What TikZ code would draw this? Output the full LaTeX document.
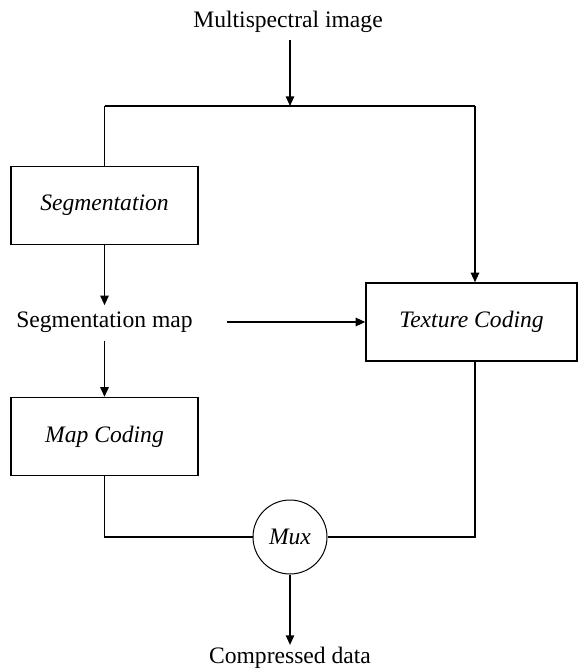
\documentclass[tikz,border=0pt]{standalone}
\usepackage{fontspec}
\setmainfont{Liberation Serif}
\usetikzlibrary{arrows.meta}
\newcommand{\figsize}{\fontsize{11.8}{14}\selectfont}
\tikzset{
  blk/.style={draw, line width=0.7pt, minimum width=93.5pt, minimum height=39pt, inner sep=0pt, font=\figsize\itshape},
  lbl/.style={inner sep=0pt, font=\figsize},
  wire/.style={line width=0.7pt},
  flow/.style={line width=0.7pt, -{Triangle[width=4.2pt,length=4.8pt]}},
}
\begin{document}
\begin{tikzpicture}[x=0.5pt, y=-0.5pt]
    \useasboundingbox (0,0) rectangle (578,668);
    \node[lbl] (inp) at (288,22) {Multispectral image};
    \coordinate (split) at (290,106);
    \coordinate (splitl) at (104.5,106);
    \coordinate (splitr) at (475,106);
    \node[blk] (seg) at (104.5,205.5) {Segmentation};
    \node[lbl] (segmap) at (104.5,322) {Segmentation map};
    \node[blk] (map) at (104.5,436.5) {Map Coding};
    \node[blk, minimum width=105.5pt] (tex) at (471.5,322) {Texture Coding};
    \node[draw, circle, line width=0.5pt, minimum size=37pt, inner sep=0pt, font=\figsize\itshape] (mux) at (290,537) {Mux};
    \node[lbl] (out) at (290,658) {Compressed data};
    \draw[flow, shorten <=3.5pt] (inp.south -| split) -- (split);
    \draw[wire] (splitl) -- (splitr);
    \draw[wire] (splitl) -- (seg.north);
    \draw[flow] (splitr) -- (splitr |- tex.north);
    \draw[flow, shorten >=3pt] (seg.south) -- (segmap.north);
    \draw[flow, shorten <=4pt] (segmap.south) -- (map.north);
    \draw[flow, shorten <=17pt] (segmap.east) -- (tex.west);
    \draw[wire] (map.south) |- (mux.west);
    \draw[wire] (splitr |- tex.south) |- (mux.east);
    \draw[flow, shorten >=1pt] (mux.south) -- (out.north);
\end{tikzpicture}
\end{document}
